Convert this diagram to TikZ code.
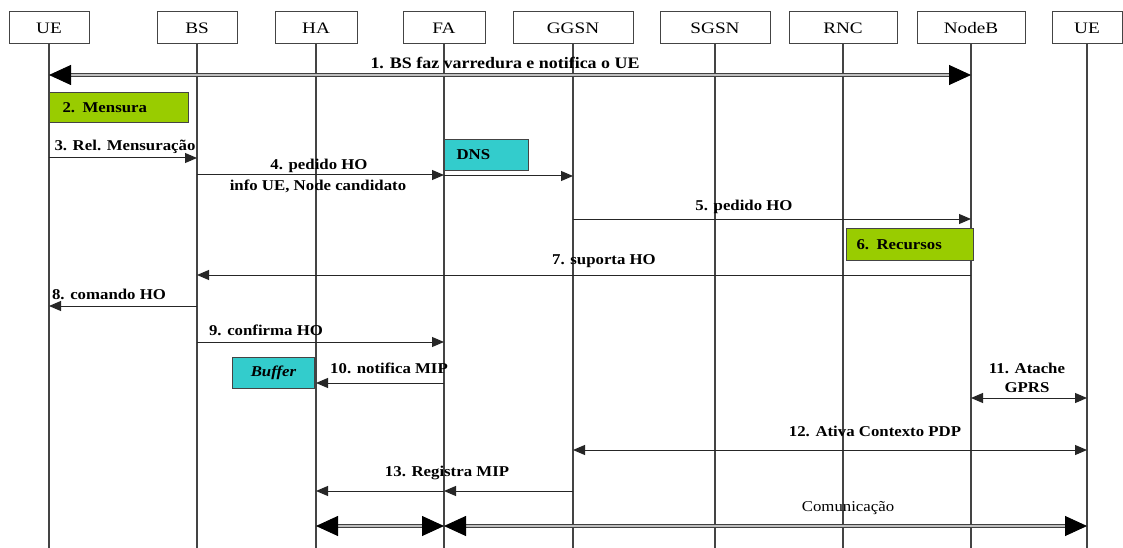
\documentclass[tikz,border=0pt]{standalone}
\usepackage{fontspec}
\setmainfont{Liberation Serif}
\newfontfamily\hdfont{Liberation Serif}[FakeStretch=1.2]
\newfontfamily\msgfont{Liberation Serif}[FakeStretch=1.12]
\usetikzlibrary{arrows.meta}
\definecolor{grn}{HTML}{99CC00}
\definecolor{cyn}{HTML}{33CCCC}
\definecolor{lgray}{HTML}{444444}
\begin{document}
\begin{tikzpicture}[x=1pt,y=-1pt,
  head/.style={draw=lgray, line width=1pt, minimum height=32pt, inner sep=0pt, fill=white,
    font=\hdfont\fontsize{16}{18}\selectfont},
  life/.style={draw=lgray, line width=1.3pt},
  msg/.style={draw=black!85, line width=1pt, -{Triangle[length=12pt,width=10pt]}},
  msgb/.style={draw=black!85, line width=1pt, {Triangle[length=12pt,width=10pt]}-{Triangle[length=12pt,width=10pt]}},
  big/.style={draw=black!75, double=black!25, double distance=1.6pt, line width=0.9pt,
    {Triangle[length=22pt,width=20pt,color=black]}-{Triangle[length=22pt,width=20pt,color=black]}},
  lbl/.style={font=\msgfont\bfseries\fontsize{15}{19}\selectfont, inner sep=0pt},
  act/.style={draw=lgray, line width=1pt, anchor=north west, inner ysep=0pt, align=left,
    font=\msgfont\bfseries\fontsize{15}{17}\selectfont}
]
\useasboundingbox (0,0) rectangle (1123,548);
\fill[white] (0,0) rectangle (1123,548);

% header boxes
\node[head, minimum width=80pt]  (ue)    at (49,28)   {UE};
\node[head, minimum width=80pt]  (bs)    at (197,28)  {BS};
\node[head, minimum width=82pt]  (ha)    at (316,28)  {HA};
\node[head, minimum width=82pt]  (fa)    at (444,28)  {FA};
\node[head, minimum width=120pt] (ggsn)  at (573,28)  {GGSN};
\node[head, minimum width=110pt] (sgsn)  at (715,28)  {SGSN};
\node[head, minimum width=108pt] (rnc)   at (843,28)  {RNC};
\node[head, minimum width=108pt] (nodeb) at (971,28)  {NodeB};
\node[head, minimum width=70pt]  (ue2)   at (1087,28) {UE};

% lifelines
\foreach \n in {ue,bs,ha,fa,ggsn,sgsn,rnc,nodeb,ue2}{
  \draw[life] (\n.south) -- (\n |- 0,548);
}

% activation boxes
\node[act, fill=grn, minimum height=30pt, text width=113pt, inner xsep=13pt] (mensura) at (49,92) {2. Mensura};
\node[act, fill=cyn, minimum height=31pt, text width=60pt, inner xsep=12pt] (dns) at (444,139) {DNS};
\node[act, fill=grn, minimum height=32pt, text width=107pt, inner xsep=10pt] (recursos) at (846,228) {6. Recursos};
\node[act, fill=cyn, minimum height=31pt, minimum width=82pt, inner xsep=0pt, align=center] (buffer) at (232,357) {\itshape Buffer};

% messages
\draw[big] (ue |- 0,75) -- (nodeb |- 0,75);
\node[lbl, font=\msgfont\bfseries\fontsize{16}{19}\selectfont] (l1) at (505,63) {1. BS faz varredura e notifica o UE};

\draw[msg] (ue |- 0,158) -- (bs |- 0,158);
\node[lbl] (l3) at (125,147) {3. Rel. Mensuração};

\draw[msg] (bs |- 0,175) -- (fa |- 0,175);
\draw[msg] (fa |- 0,176) -- (ggsn |- 0,176);
\node[lbl] (l4a) at (319,166) {4. pedido HO};
\node[lbl] (l4b) at (318,186) {info UE, Node candidato};

\draw[msg] (ggsn |- 0,219) -- (nodeb |- 0,219);
\node[lbl] (l5) at (744,207) {5. pedido HO};

\draw[msg] (nodeb |- 0,275) -- (bs |- 0,275);
\node[lbl] (l7) at (604,261) {7. suporta HO};

\draw[msg] (bs |- 0,306) -- (ue |- 0,306);
\node[lbl] (l8) at (109,294) {8. comando HO};

\draw[msg] (bs |- 0,342) -- (fa |- 0,342);
\node[lbl] (l9) at (266,330) {9. confirma HO};

\draw[msg] (fa |- 0,383) -- (ha |- 0,383);
\node[lbl] (l10) at (389,368) {10. notifica MIP};

\draw[msgb] (nodeb |- 0,398) -- (ue2 |- 0,398);
\node[lbl, align=center] (l11) at (1027,378) {11. Atache\\GPRS};

\draw[msgb] (ggsn |- 0,450) -- (ue2 |- 0,450);
\node[lbl] (l12) at (875,431) {12. Ativa Contexto PDP};

\draw[msg] (ggsn |- 0,491) -- (fa |- 0,491);
\draw[msg] (fa |- 0,491) -- (ha |- 0,491);
\node[lbl] (l13) at (447,473) {13. Registra MIP};

\draw[big] (ha |- 0,526) -- (fa |- 0,526);
\draw[big] (fa |- 0,526) -- (ue2 |- 0,526);
\node[lbl, font=\msgfont\fontsize{15}{17}\selectfont] (lcom) at (848,508) {Comunicação};
\end{tikzpicture}
\end{document}
